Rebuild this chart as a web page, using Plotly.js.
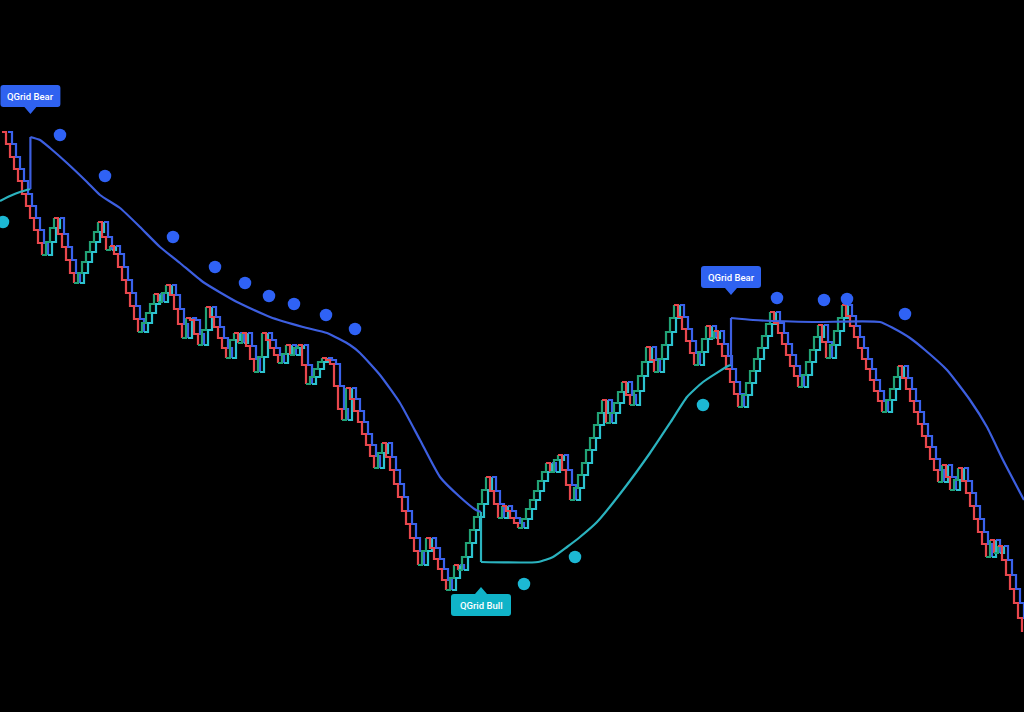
<!DOCTYPE html>
<html>
<head>
<meta charset="utf-8">
<script src="https://cdn.plot.ly/plotly-3.0.1.min.js"></script>
<style>
html,body{margin:0;padding:0;background:#000;}
#chart{width:1024px;height:712px;}
</style>
</head>
<body>
<div id="chart"></div>
<script>
// Close prices per bar (index 0..255)
const closes = [
580,568,555,543,531,518,506,494,482,469,457,470,484,494,478,465,
452,439,429,439,450,460,470,480,490,475,462,466,458,445,432,419,
406,393,380,389,399,408,418,410,419,427,417,403,388,374,394,392,
378,367,382,405,395,385,374,364,354,372,379,369,379,366,353,340,
355,379,372,364,357,349,358,367,357,364,367,347,328,335,343,350,
354,352,348,326,303,292,324,313,301,290,278,267,256,244,259,269,
255,242,228,215,201,188,174,161,147,161,174,164,153,143,132,122,
134,147,142,155,169,182,195,208,222,235,221,208,194,206,201,194,
189,184,193,203,212,221,231,240,249,240,252,257,242,227,212,224,
237,249,262,274,287,299,312,289,299,309,320,330,317,307,321,336,
350,365,352,340,353,367,380,394,407,395,383,371,359,347,360,373,
386,374,381,368,356,343,330,318,305,317,329,341,353,364,376,388,
400,389,379,368,357,346,336,325,337,350,362,375,387,370,354,367,
381,394,407,396,386,375,364,353,343,332,321,311,300,312,323,335,
346,334,323,311,300,288,276,265,253,242,230,247,235,222,232,244,
231,219,206,193,180,168,155,172,159,166,152,137,123,109,94,80
];

// QGrid trailing band (bar index, value, side: 1 bull / -1 bear)
const trailIdx = [
-0.5,2,4.5,7.1,
7.1,9.5,12,16.25,21.25,24.5,29.5,34.5,39.5,44.5,50.25,58.75,67,75.25,81.25,87,89.5,94.5,99.5,104.5,109.5,114.5,118.5,119.75,
119.75,134,137.75,141.25,144.5,148.75,155.25,162,167,171.25,175.25,181.5,182.25,
182.25,187.75,202.75,219.5,222.75,227,230.75,236.25,242,246.25,250.25,255.5
];
const trailVal = [
511,516,520,523,
575,572,564,549,530,517,504,485,465,449,430,410,395,385,379,367,359,337,309,272,235,215,202,200,
150,150,155,165,175,190,222,259,289,315,330,346,347,
394,392,390,390,384,374,362,342,312,285,252,212
];
const trailSide = [
1,1,1,1,
-1,-1,-1,-1,-1,-1,-1,-1,-1,-1,-1,-1,-1,-1,-1,-1,-1,-1,-1,-1,-1,-1,-1,-1,
1,1,1,1,1,1,1,1,1,1,1,1,1,
-1,-1,-1,-1,-1,-1,-1,-1,-1,-1,-1,-1
];

// Signal dots
const bearDotIdx = [14.5,25.75,42.75,53.25,60.75,66.75,73,81,88.25,193.75,205.5,211.25,225.75];
const bearDotVal = [577,536,475,445,429,416,408,397,383,414,412,413,398];
const bullDotIdx = [0.25,130.5,143.25,175.25];
const bullDotVal = [490,128,155,307];

const labelBear = 'QGrid Bear';
const labelBull = 'QGrid Bull';

// colours
const C = {
  up:'#21a276', down:'#e8474d',
  up2:'#2cc3cf', down2:'#3a62ec',
  bullLine:'#2bb3bf', bearLine:'#3d5fe0',
  bullDot:'#1cb8d4', bearDot:'#2f62f5',
  bullLabel:'#10b3c8', bearLabel:'#2f62f0'
};

const idx = closes.map((_, i) => i);
const traces = [];

// Price drawn as a stepped bar-to-bar path, split into rising / falling runs
function priceRuns(shift, upColor, downColor, width) {
  const out = [];
  let cur = null;
  for (let i = 1; i < closes.length; i++) {
    const dir = closes[i] >= closes[i - 1] ? 1 : -1;
    if (!cur || cur.dir !== dir) {
      if (cur) out.push(cur);
      cur = {dir, x:[idx[i - 1] + shift], y:[closes[i - 1]]};
    }
    cur.x.push(idx[i] + shift); cur.y.push(closes[i]);
  }
  out.push(cur);
  return out.map(r => ({
    type:'scatter', mode:'lines', x:r.x, y:r.y, hoverinfo:'skip',
    line:{color: r.dir > 0 ? upColor : downColor, width: width, shape:'hv'}
  }));
}
// lagged shadow (blue / cyan) under the main red / green path
priceRuns(1.5, C.up2, C.down2, 2.2).forEach(t => traces.push(t));
priceRuns(0, C.up, C.down, 2.2).forEach(t => traces.push(t));

// trailing band: smooth runs + straight flip connectors
const flips = [];
const runs = [];
const connectors = [];
let run = {x:[trailIdx[0]], y:[trailVal[0]], side: trailSide[0]};
for (let k = 1; k < trailIdx.length; k++) {
  if (trailSide[k] !== run.side) {
    runs.push(run);
    connectors.push({x:[trailIdx[k-1], trailIdx[k]], y:[trailVal[k-1], trailVal[k]], side: trailSide[k]});
    run = {x:[trailIdx[k]], y:[trailVal[k]], side: trailSide[k]};
    flips.push({x: trailIdx[k], y: trailVal[k], side: trailSide[k]});
  } else {
    run.x.push(trailIdx[k]); run.y.push(trailVal[k]);
  }
}
runs.push(run);
runs.forEach(r => traces.push({
  type:'scatter', mode:'lines', x:r.x, y:r.y, hoverinfo:'skip',
  line:{color: r.side > 0 ? C.bullLine : C.bearLine, width:2.2, shape:'spline', smoothing:0.5}
}));
connectors.forEach(r => traces.push({
  type:'scatter', mode:'lines', x:r.x, y:r.y, hoverinfo:'skip',
  line:{color: r.side > 0 ? C.bullLine : C.bearLine, width:2.2}
}));

traces.push({type:'scatter', mode:'markers', x:bearDotIdx, y:bearDotVal, hoverinfo:'skip',
  marker:{color:C.bearDot, size:12.5}});
traces.push({type:'scatter', mode:'markers', x:bullDotIdx, y:bullDotVal, hoverinfo:'skip',
  marker:{color:C.bullDot, size:12.5}});

// rounded callout (pixel units, y up) anchored at the flip point
const bearCallout = 'M -27,30 L -6,30 L 0,23 L 6,30 L 27,30 Q 30,30 30,33 L 30,49 Q 30,52 27,52 L -27,52 Q -30,52 -30,49 L -30,33 Q -30,30 -27,30 Z';
const bullCallout = 'M -27,-32 L -6,-32 L 0,-25 L 6,-32 L 27,-32 Q 30,-32 30,-35 L 30,-51 Q 30,-54 27,-54 L -27,-54 Q -30,-54 -30,-51 L -30,-35 Q -30,-32 -27,-32 Z';

const annotations = [];
const shapes = [];
flips.forEach(f => {
  const bear = f.side < 0;
  shapes.push({
    type:'path', xref:'x', yref:'y', xsizemode:'pixel', ysizemode:'pixel',
    xanchor: f.x, yanchor: f.y,
    path: bear ? bearCallout : bullCallout,
    fillcolor: bear ? C.bearLabel : C.bullLabel, line:{width:0}
  });
  annotations.push({
    x: f.x, y: f.y, xref:'x', yref:'y', showarrow:false,
    text: bear ? labelBear : labelBull,
    xanchor:'center', yanchor:'middle', yshift: bear ? 41 : -43,
    font:{family:'Roboto, Arial, sans-serif', size:9.5, color:'#ffffff', weight:500}
  });
});

const layout = {
  width:1024, height:712,
  margin:{l:0, r:0, t:0, b:0},
  paper_bgcolor:'#000000', plot_bgcolor:'#000000',
  showlegend:false,
  xaxis:{range:[-0.5, 255.5], visible:false, fixedrange:true},
  yaxis:{range:[0, 712], visible:false, fixedrange:true},
  annotations: annotations,
  shapes: shapes
};

Plotly.newPlot('chart', traces, layout, {displayModeBar:false, staticPlot:true});
</script>
</body>
</html>
